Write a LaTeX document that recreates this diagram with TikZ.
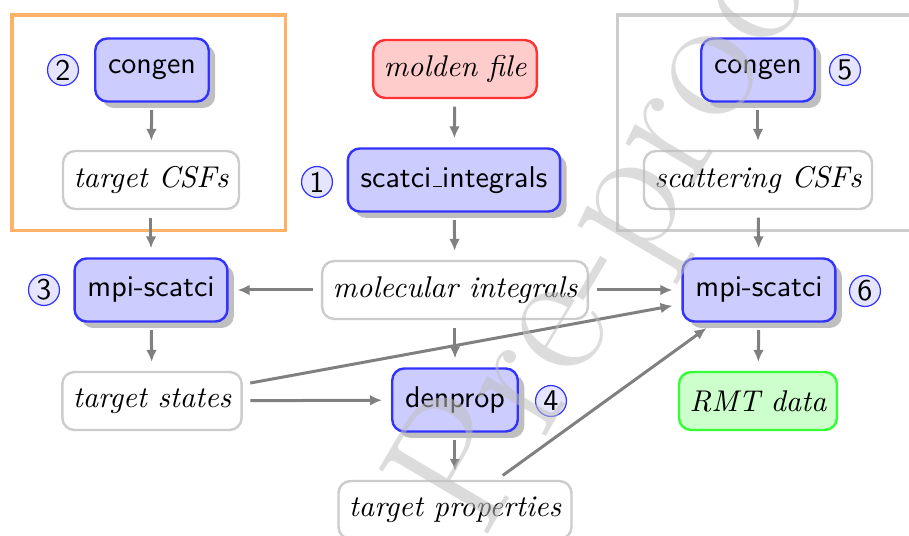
\documentclass[tikz,border=0pt]{standalone}
\usepackage{tikz}
\usetikzlibrary{arrows.meta,shadows}

\tikzset{every picture/.style={line width=0.75pt}}
\tikzset{
  tool/.style={draw=blue!80,fill=blue!20,thick,rounded corners=4pt,drop shadow,
    font=\sffamily,minimum height=21pt,inner xsep=4.3pt},
  datum/.style={draw=gray!40,fill=white,thick,rounded corners=4pt,font=\itshape,
    minimum height=19.3pt,inner xsep=3.5pt},
  num/.style={circle,draw=blue!80,fill=blue!10,line width=0.4pt,font=\sffamily,
    minimum size=10.3pt,inner sep=0.5pt},
  flow/.style={draw=gray,line width=1pt,-{Latex[length=4pt,width=3.6pt]},
    shorten <=2.5pt,shorten >=3pt},
}
\newcommand{\lowbar}{\kern.06em\vbox{\hrule width .3em}}

\begin{document}
\begin{tikzpicture}[x=0.3333pt,y=0.3333pt,yscale=-1,xscale=1]
\useasboundingbox (0,0) rectangle (909,536);
\clip (0,0) rectangle (909,536);

%Frames
\draw [draw=orange!60,line width=1pt] (12,15) rectangle (286,231) ;
\draw [draw=gray!40,line width=1pt] (618,15) rectangle (960,231) ;

% Nodes
\node [tool] (congenA) at (152,70) {congen};
\node [datum] (targetcsf) at (151,180) {target CSFs};
\node [datum,draw=red!80,fill=red!20] (molden) at (455,69) {molden file};
\node [tool] (integrals) at (454,180) {scatci\lowbar integrals};
\node [tool] (congenB) at (758,70) {congen};
\node [datum] (scattcsf) at (758,180) {scattering CSFs};
\node [tool] (scatciA) at (151,290) {mpi-scatci};
\node [datum] (molint) at (455,290) {molecular integrals};
\node [tool] (scatciB) at (759,290) {mpi-scatci};
\node [datum] (targetstates) at (152,401) {target states};
\node [tool] (denprop) at (455,400) {denprop};
\node [datum,draw=green!80,fill=green!20] (rmt) at (758,401) {RMT data};
\node [datum] (targetprop) at (455,510) {target properties};

% Numbers
\node [num] (n1) at (317,182) {1};
\node [num] (n2) at (63,70) {2};
\node [num] (n3) at (44,290) {3};
\node [num] (n4) at (551,401) {4};
\node [num] (n5) at (845,70) {5};
\node [num] (n6) at (865,291) {6};

% Connections
\draw [flow] (congenA) -- (targetcsf) ;
\draw [flow] (targetcsf) -- (scatciA) ;
\draw [flow] (scatciA) -- (targetstates) ;
\draw [flow] (molden) -- (integrals) ;
\draw [flow] (integrals) -- (molint) ;
\draw [flow] (molint) -- (scatciA) ;
\draw [flow] (molint) -- (scatciB) ;
\draw [flow] (molint) -- (denprop) ;
\draw [flow] (targetstates) -- (denprop) ;
\draw [flow] (targetstates) -- (scatciB) ;
\draw [flow] (denprop) -- (targetprop) ;
\draw [flow] (targetprop) -- (scatciB) ;
\draw [flow] (congenB) -- (scattcsf) ;
\draw [flow] (scattcsf) -- (scatciB) ;
\draw [flow] (scatciB) -- (rmt) ;

% Watermark
\node [anchor=base west,rotate=59.4,inner sep=0pt,text=black!25,opacity=0.55,
  font=\fontsize{62}{66}\selectfont] (mark) at (483,543) {Pre-proof};

\end{tikzpicture}
\end{document}
